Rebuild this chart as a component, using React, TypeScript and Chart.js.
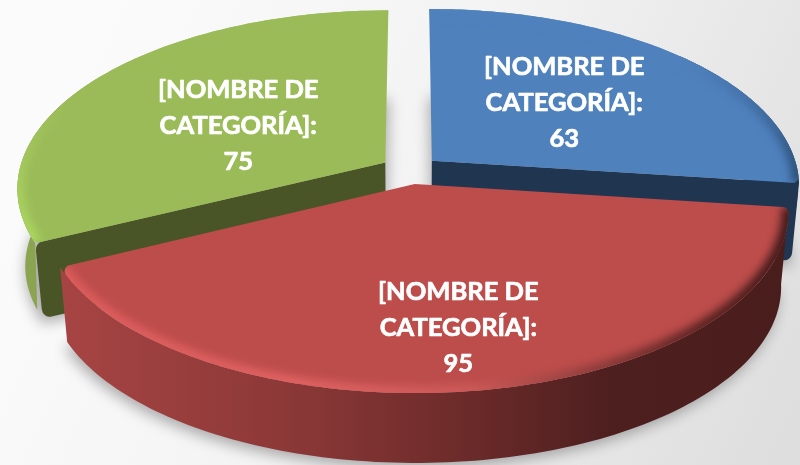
import React, { useEffect, useRef } from "react";
import { Chart, registerables } from "chart.js";

Chart.register(...registerables);

const categories = ["[NOMBRE DE CATEGORÍA]", "[NOMBRE DE CATEGORÍA]", "[NOMBRE DE CATEGORÍA]"];
const values = [63, 95, 75];
const topColors = ["#4f81bd", "#bd4d4b", "#9bbb59"];
const labelLines = [["[NOMBRE DE", "CATEGORÍA]:"], ["[NOMBRE DE", "CATEGORÍA]:"], ["[NOMBRE DE", "CATEGORÍA]:"]];
const labelReach = [0.52, 0.67, 0.48];
const labelNudgeX = [-2, -1, -5];
const labelNudgeY = [-1, 12.5, 6];
const drawOrder = [2, 0, 1];

const CX = 410, CY = 170, RX = 366, RY = 175.5, P = 0.14, EXPLODE = 0.08, NARROW = 0.98;

type Pt = [number, number];

function project(a: number, f: number, mid: number): Pt {
  const U = f * Math.cos(a) + EXPLODE * Math.cos(mid);
  const V = f * Math.sin(a) + EXPLODE * Math.sin(mid);
  const s = 1 / (1 - P * V);
  return [CX + RX * U * s, CY + RY * V * s];
}
const lower = (p: Pt): Pt => [CX + (p[0] - CX) * NARROW, p[1] + 78 - (8 * (p[1] - CY)) / 220];

function rim(start: number, end: number, mid: number, n = 120): Pt[] {
  const out: Pt[] = [];
  for (let i = 0; i <= n; i++) out.push(project(start + ((end - start) * i) / n, 1, mid));
  return out;
}
function trace(ctx: CanvasRenderingContext2D, pts: Pt[], close = true) {
  ctx.beginPath();
  pts.forEach((p, i) => (i ? ctx.lineTo(p[0], p[1]) : ctx.moveTo(p[0], p[1])));
  if (close) ctx.closePath();
}
// apex, rim edge, lower rim edge, lower apex: only the outer corners are rounded
function traceCutWall(ctx: CanvasRenderingContext2D, q: Pt[], r: number) {
  ctx.beginPath();
  ctx.moveTo(q[0][0], q[0][1]);
  ctx.arcTo(q[1][0], q[1][1], q[2][0], q[2][1], r);
  ctx.arcTo(q[2][0], q[2][1], q[3][0], q[3][1], r);
  ctx.lineTo(q[3][0], q[3][1]);
  ctx.closePath();
}
function traceFace(ctx: CanvasRenderingContext2D, apex: Pt, top: Pt[], r0: number, r1: number) {
  const k = 4;
  const n = top.length - 1;
  ctx.beginPath();
  ctx.moveTo(apex[0], apex[1]);
  ctx.arcTo(top[0][0], top[0][1], top[k][0], top[k][1], r0);
  for (let j = k; j <= n - k; j++) ctx.lineTo(top[j][0], top[j][1]);
  ctx.arcTo(top[n][0], top[n][1], apex[0], apex[1], r1);
  ctx.closePath();
}
function grad(ctx: CanvasRenderingContext2D, x0: number, y0: number, x1: number, y1: number, stops: [number, string][]) {
  const g = ctx.createLinearGradient(x0, y0, x1, y1);
  stops.forEach(([o, c]) => g.addColorStop(o, c));
  return g;
}

function drawSlice(ctx: CanvasRenderingContext2D, i: number, start: number, end: number) {
  const mid = (start + end) / 2;
  const apex = project(0, 0, mid);
  const top = rim(start, end, mid);
  const bottom = top.map(lower);
  const half = Math.floor(top.length / 2);
  const upperRim = i === 0 ? top.slice(half) : i === 2 ? top.slice(0, half) : top;
  const lowerRim = i === 0 ? bottom.slice(half, -3) : i === 2 ? bottom.slice(3, half) : bottom;
  const silhouette = [...upperRim, ...lowerRim.slice().reverse()];
  const r0 = i === 0 ? 0 : 6;
  const r1 = i === 2 ? 0 : 6;

  // soft shadow on the page
  ctx.save();
  ctx.filter = "blur(7px)";
  ctx.fillStyle = "rgba(0,0,0,0.3)";
  trace(ctx, [lower(apex), ...bottom].map((p) => [p[0] + (i === 1 ? -3 : 0), p[1] + 5] as Pt));
  ctx.fill();
  ctx.restore();

  // outer wall
  ctx.fillStyle =
    i === 1
      ? grad(ctx, 65, 0, 790, 0, [[0, "#a64443"], [0.3, "#8c3938"], [0.55, "#6c2b2a"], [0.75, "#4e1f1f"], [1, "#4a1d1d"]])
      : i === 2
      ? "#8aa44f"
      : "#1f3550";
  trace(ctx, silhouette);
  ctx.fill();

  // inner cut walls that face the viewer
  const cut = (edge: Pt, color: string) => {
    ctx.fillStyle = color;
    traceCutWall(ctx, [apex, edge, lower(edge), lower(apex)], 8);
    ctx.fill();
  };
  if (i === 0) cut(top[top.length - 1], "#1f3550");
  if (i === 2) cut(top[0], "#4a5527");

  // top face
  ctx.fillStyle = topColors[i];
  traceFace(ctx, apex, top, r0, r1);
  ctx.fill();

  // bevel along the rim
  ctx.save();
  traceFace(ctx, apex, top, r0, r1);
  ctx.clip();
  ctx.filter = "blur(4px)";
  ctx.lineWidth = 14;
  ctx.strokeStyle =
    i === 1
      ? grad(ctx, 65, 0, 790, 0, [[0, "#dc5c5c"], [0.32, "#e06262"], [0.56, "#cc5a58"], [0.74, "#8a3b3a"], [0.88, "#5a2222"], [1, "#401a1a"]])
      : i === 2
      ? grad(ctx, 0, 100, 0, 245, [[0, "#9bbb59"], [1, "#acd95f"]])
      : grad(ctx, 0, 60, 0, 182, [[0, "#4f81bd"], [1, "#2a4d75"]]);
  trace(ctx, top, false);
  ctx.stroke();
  ctx.restore();
}

const pie3d = {
  id: "pie3d",
  beforeDraw(chart: any) {
    const ctx: CanvasRenderingContext2D = chart.ctx;
    ctx.save();
    ctx.fillStyle = grad(ctx, 60, 100, 780, 440, [[0, "#fbfbfb"], [0.45, "#f3f3f3"], [1, "#dedede"]]);
    ctx.fillRect(0, 0, chart.width, chart.height);
    ctx.restore();
  },
  beforeDatasetDraw(chart: any) {
    const ctx: CanvasRenderingContext2D = chart.ctx;
    const arcs = chart.getDatasetMeta(0).data;
    ctx.save();
    drawOrder.forEach((i) => drawSlice(ctx, i, arcs[i].startAngle, arcs[i].endAngle));
    ctx.fillStyle = "#fff";
    ctx.strokeStyle = "#fff";
    ctx.lineWidth = 0.7;
    ctx.lineJoin = "round";
    ctx.textAlign = "center";
    ctx.textBaseline = "middle";
    ctx.font = "700 25.5px Lato, 'Open Sans', sans-serif";
    arcs.forEach((arc: any, i: number) => {
      const mid = (arc.startAngle + arc.endAngle) / 2;
      const [x, y] = project(mid, labelReach[i], mid);
      const lines = [...labelLines[i], String(values[i])];
      lines.forEach((t, k) => {
        const tx = x + labelNudgeX[i];
        const ty = y + labelNudgeY[i] + (k - 1) * 36;
        ctx.strokeText(t, tx, ty);
        ctx.fillText(t, tx, ty);
      });
    });
    ctx.restore();
    return false;
  },
};

export default function App() {
  const ref = useRef<HTMLCanvasElement>(null);
  useEffect(() => {
    const chart = new Chart(ref.current!, {
      type: "pie",
      data: { labels: categories, datasets: [{ data: values, backgroundColor: topColors, borderWidth: 0 }] },
      options: {
        responsive: false,
        animation: false,
        layout: { padding: 0 },
        plugins: { legend: { display: false }, tooltip: { enabled: false } },
      },
      plugins: [pie3d],
    } as any);
    return () => chart.destroy();
  }, []);
  return (
    <canvas
      ref={ref}
      width={800}
      height={465}
      style={{ position: "fixed", left: 0, top: 0, width: 800, height: 465, background: "#fff" }}
    />
  );
}
